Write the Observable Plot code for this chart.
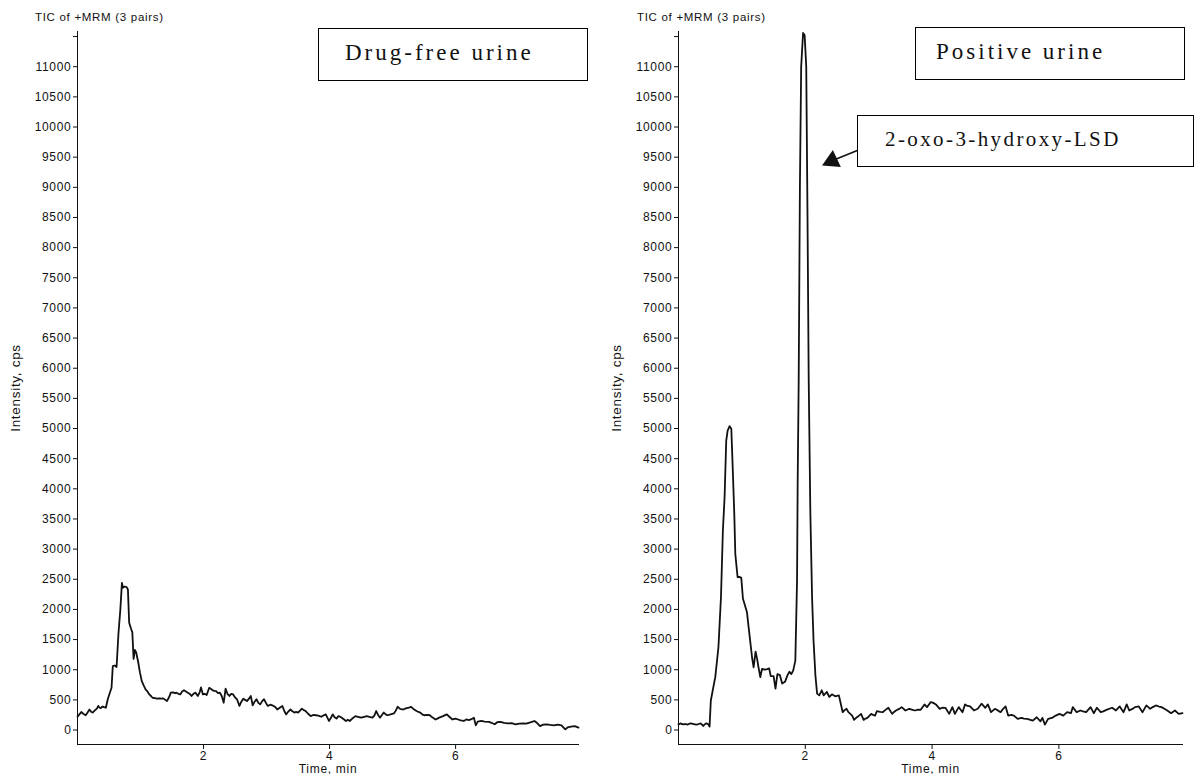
<!DOCTYPE html>
<html><head><meta charset="utf-8">
<script src="https://cdn.jsdelivr.net/npm/d3@7"></script>
<script src="https://cdn.jsdelivr.net/npm/@observablehq/plot@0.6"></script>
<style>
body{margin:0;background:#fff;}
#wrap{position:relative;width:1195px;height:774px;overflow:hidden;background:#fff;font-family:"Liberation Sans",Arial,sans-serif;}
.panel{position:absolute;top:0;}
.panel g[aria-label="y-axis label"]{font-size:13.5px;}
.tic{position:absolute;font-size:11.5px;letter-spacing:0.7px;line-height:12px;color:#111;white-space:nowrap;}
.box{position:absolute;border:1.5px solid #000;box-sizing:border-box;font-family:"Liberation Serif","Times New Roman",serif;display:flex;align-items:center;background:#fff;color:#111;white-space:nowrap;}
</style></head>
<body><div id="wrap"></div>
<script>
// ---- data ----
const panelTitles = ["TIC of +MRM (3 pairs)", "TIC of +MRM (3 pairs)"];
const sampleLabels = ["Drug-free urine", "Positive urine"];
const peakLabel = "2-oxo-3-hydroxy-LSD";
const xLabel = "Time, min";
const yLabel = "Intensity, cps";
const xTicks = [2, 4, 6];
const yTicks = [0,500,1000,1500,2000,2500,3000,3500,4000,4500,5000,5500,6000,6500,7000,7500,8000,8500,9000,9500,10000,10500,11000,11500];
const yTickLabels = ["0","500","1000","1500","2000","2500","3000","3500","4000","4500","5000","5500","6000","6500","7000","7500","8000","8500","9000","9500","10000","10500","11000",""];
const timeDomain = [0, 7.95];
const intensityDomain = [-240, 11584];

const drugFreeTime = [0.00,0.03,0.06,0.09,0.13,0.16,0.19,0.22,0.24,0.28,0.31,0.33,0.35,0.37,0.40,0.42,0.45,0.48,0.52,0.54,0.56,0.59,0.62,0.65,0.68,0.705,0.72,0.75,0.78,0.80,0.82,0.85,0.87,0.89,0.91,0.93,0.96,0.99,1.02,1.05,1.08,1.11,1.14,1.17,1.19,1.23,1.26,1.30,1.33,1.36,1.42,1.46,1.48,1.52,1.55,1.57,1.60,1.63,1.66,1.69,1.72,1.75,1.78,1.81,1.84,1.87,1.91,1.94,1.96,1.99,2.02,2.05,2.09,2.12,2.14,2.17,2.20,2.23,2.26,2.29,2.32,2.35,2.38,2.41,2.44,2.47,2.50,2.53,2.57,2.60,2.63,2.66,2.69,2.72,2.75,2.78,2.81,2.84,2.87,2.90,2.93,2.96,2.99,3.02,3.06,3.11,3.14,3.17,3.21,3.25,3.28,3.31,3.34,3.38,3.41,3.44,3.47,3.50,3.53,3.56,3.59,3.62,3.66,3.70,3.74,3.78,3.82,3.87,3.90,3.94,3.99,4.02,4.05,4.08,4.11,4.14,4.17,4.21,4.26,4.29,4.32,4.36,4.41,4.45,4.50,4.55,4.59,4.63,4.68,4.71,4.74,4.77,4.80,4.83,4.86,4.89,4.92,4.97,5.02,5.05,5.08,5.12,5.17,5.21,5.26,5.29,5.33,5.38,5.41,5.44,5.47,5.50,5.55,5.59,5.63,5.68,5.71,5.74,5.80,5.86,5.90,5.95,6.00,6.04,6.08,6.13,6.17,6.21,6.25,6.29,6.32,6.35,6.41,6.46,6.53,6.57,6.62,6.66,6.71,6.77,6.83,6.89,6.95,7.01,7.07,7.12,7.16,7.20,7.25,7.29,7.34,7.39,7.44,7.50,7.56,7.62,7.68,7.74,7.78,7.83,7.89,7.95];
const drugFreeIntensity = [220,260,300,270,245,290,340,300,290,330,360,400,370,365,390,380,370,510,640,700,1060,1070,1045,1600,2000,2440,2360,2380,2370,2330,1780,1680,1620,1180,1330,1290,1145,960,810,740,675,640,590,560,535,530,520,525,520,525,480,560,620,625,610,620,600,590,640,660,640,620,600,565,600,620,565,630,707,590,600,580,700,680,663,650,645,610,620,560,453,685,600,565,600,590,540,510,400,470,520,500,480,520,565,410,470,510,450,425,480,510,450,400,420,400,380,340,370,400,320,260,300,340,310,290,300,290,320,355,330,315,270,230,250,245,240,220,240,260,150,200,260,210,190,230,220,190,150,170,150,190,230,220,205,220,230,220,205,240,315,250,205,250,290,260,245,260,275,320,385,350,340,360,370,385,350,315,300,290,260,245,250,245,210,175,190,205,230,260,220,175,190,175,160,150,175,165,180,205,77,140,150,140,135,120,95,130,135,120,110,115,95,105,110,105,120,130,150,120,65,90,95,85,77,90,77,10,45,55,65,40];

const positiveTime = [0.00,0.03,0.05,0.08,0.11,0.14,0.17,0.20,0.23,0.26,0.29,0.32,0.35,0.39,0.42,0.44,0.47,0.49,0.51,0.56,0.58,0.63,0.67,0.70,0.727,0.753,0.775,0.806,0.833,0.853,0.88,0.896,0.932,0.96,0.99,1.017,1.05,1.08,1.106,1.16,1.185,1.216,1.24,1.26,1.29,1.317,1.36,1.40,1.43,1.455,1.50,1.53,1.56,1.60,1.635,1.68,1.72,1.75,1.78,1.81,1.843,1.87,1.88,1.896,1.915,1.935,1.965,1.99,2.015,2.035,2.054,2.08,2.107,2.13,2.16,2.186,2.22,2.26,2.29,2.34,2.38,2.42,2.47,2.53,2.59,2.62,2.65,2.68,2.74,2.77,2.80,2.83,2.88,2.92,2.95,2.98,3.04,3.07,3.10,3.13,3.18,3.22,3.26,3.31,3.37,3.40,3.43,3.48,3.52,3.58,3.64,3.68,3.73,3.78,3.82,3.88,3.92,3.98,4.02,4.06,4.12,4.16,4.21,4.27,4.32,4.36,4.42,4.48,4.52,4.56,4.60,4.66,4.72,4.78,4.84,4.88,4.93,4.99,5.03,5.08,5.12,5.16,5.20,5.25,5.29,5.35,5.41,5.45,5.50,5.55,5.59,5.65,5.71,5.74,5.78,5.83,5.89,5.95,6.01,6.07,6.13,6.19,6.22,6.28,6.34,6.38,6.43,6.50,6.55,6.60,6.66,6.70,6.75,6.84,6.90,6.96,7.02,7.07,7.11,7.16,7.20,7.26,7.32,7.38,7.44,7.48,7.53,7.58,7.62,7.67,7.71,7.77,7.83,7.89,7.95];
const positiveIntensity = [90,110,100,95,100,90,105,110,100,95,90,100,110,67,100,110,95,56,490,770,876,1373,2202,3308,3860,4800,4967,5040,4995,4414,3585,2922,2534,2540,2524,2176,2060,1954,1705,1207,1041,1300,1180,1050,876,1015,1000,1011,1022,894,894,687,927,910,771,799,910,967,927,990,1150,2479,4138,5800,9000,11000,11560,11520,11000,8500,5800,3590,2202,1484,900,603,575,659,575,631,548,592,559,575,296,330,352,296,240,168,200,223,268,168,190,201,268,250,240,313,300,296,330,369,268,300,324,350,380,324,352,340,324,340,335,425,380,464,450,425,352,370,369,268,380,268,380,296,425,400,391,324,352,436,369,425,296,352,330,296,350,391,240,250,240,184,201,190,184,170,156,212,145,201,89,184,201,240,268,240,296,279,380,296,324,310,296,380,279,369,296,310,335,369,324,391,296,425,324,350,380,391,296,408,352,380,408,390,380,350,324,279,324,268,279];

// annotation arrow (data coordinates of right panel): from box edge to peak
const arrowTime = [2.82, 2.42];
const arrowIntensity = [9610, 9440];

// ---- drawing ----
const wrap = document.getElementById("wrap");

function chart(times, vals, marginLeft, marginRight, extra) {
  const data = times.map((t, i) => ({t, v: vals[i]}));
  return Plot.plot({
    width: 595,
    height: 774,
    marginLeft, marginRight,
    marginTop: 31,
    marginBottom: 30,
    style: {fontFamily: "'Liberation Sans', Arial, sans-serif", fontSize: "12px", letterSpacing: "0.7px", background: "transparent", color: "#111", overflow: "visible"},
    x: {domain: timeDomain, ticks: xTicks, tickFormat: d => String(d), tickSize: 5, tickPadding: 2,
        label: xLabel, labelAnchor: "center", labelOffset: 28, labelArrow: "none", line: true},
    y: {domain: intensityDomain, ticks: yTicks, tickFormat: d => yTickLabels[yTicks.indexOf(d)], tickSize: 4, tickPadding: 2,
        label: yLabel, labelAnchor: "center", labelOffset: 67, labelArrow: "none", line: true},
    marks: [
      Plot.line(data, {x: "t", y: "v", stroke: "#111", strokeWidth: 1.8, strokeLinejoin: "round"}),
      ...extra
    ]
  });
}

const left = chart(drugFreeTime, drugFreeIntensity, 77, 17, []);
left.classList.add("panel");
left.style.left = "0px";
wrap.appendChild(left);

const arrowData = [{t1: arrowTime[0], v1: arrowIntensity[0], t2: arrowTime[1], v2: arrowIntensity[1]}];
const right = chart(positiveTime, positiveIntensity, 78, 13, [
  Plot.link(arrowData, {x1: "t1", y1: "v1", x2: "t2", y2: "v2", stroke: "#111", strokeWidth: 1.6}),
  Plot.dot(arrowData, {x: "t2", y: "v2", symbol: "triangle", r: 7, fill: "#111", stroke: "none", rotate: 245})
]);
right.classList.add("panel");
right.style.left = "600px";
wrap.appendChild(right);

function addDiv(cls, text, css) {
  const d = document.createElement("div");
  d.className = cls;
  d.textContent = text;
  Object.assign(d.style, css);
  wrap.appendChild(d);
  return d;
}
addDiv("tic", panelTitles[0], {left: "35px", top: "11px"});
addDiv("tic", panelTitles[1], {left: "637px", top: "11px"});
addDiv("box", sampleLabels[0], {left: "318px", top: "28px", width: "270px", height: "53px", paddingLeft: "26px", paddingBottom: "4px", fontSize: "23px", letterSpacing: "3px"});
addDiv("box", sampleLabels[1], {left: "915px", top: "27px", width: "270px", height: "53px", paddingLeft: "20px", paddingBottom: "4px", fontSize: "23px", letterSpacing: "3px"});
addDiv("box", peakLabel, {left: "857px", top: "115px", width: "337px", height: "52px", paddingLeft: "27px", paddingBottom: "4px", fontSize: "21px", letterSpacing: "2.4px"});
</script>
</body></html>
